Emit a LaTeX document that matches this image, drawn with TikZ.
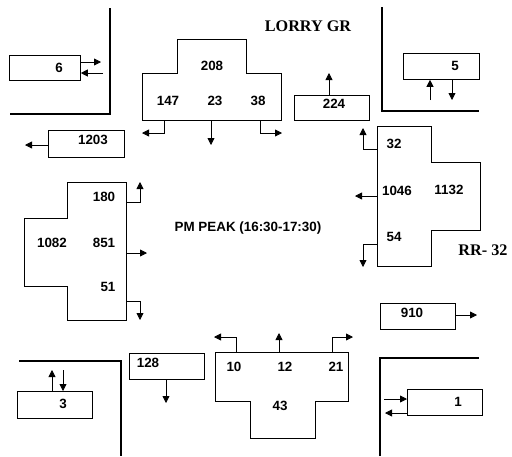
\documentclass[tikz,border=0pt]{standalone}
\usepackage{fontspec}
\setmainfont{Liberation Serif}
\setsansfont{Liberation Sans}
\usetikzlibrary{arrows.meta}
\begin{document}
\begin{tikzpicture}[x=1pt,y=-1pt,
 num/.style={font=\sffamily\bfseries\fontsize{13.4}{15}\selectfont, inner sep=0pt},
 box/.style={draw, line width=0.8pt, inner sep=0pt, anchor=north west},
 tshape/.style={draw, line width=0.8pt},
 arr/.style={line width=0.8pt, -{Triangle[length=7pt,width=7pt]}},
 wall/.style={line width=2.8pt},
 title/.style={font=\rmfamily\bfseries\fontsize{16.2}{18}\selectfont, inner sep=0pt}]
\useasboundingbox (0,0) rectangle (512,456);

% walls
\draw[wall] (110,8) -- (110,114) -- (10,114);
\draw[wall] (382,7) -- (382,111) -- (479,111);
\draw[wall] (19,361) -- (121,361) -- (121,456);
\draw[wall] (380,456) -- (380,358) -- (479,358);

% boxes
\node[box, minimum width=71pt, minimum height=25pt] (b6) at (9,55) {};
\node[box, minimum width=76pt, minimum height=27pt] (b1203) at (48,130) {};
\node[box, minimum width=75pt, minimum height=25pt] (b224) at (294,95) {};
\node[box, minimum width=76pt, minimum height=26pt] (b5) at (403,53) {};
\node[box, minimum width=75pt, minimum height=26pt] (b910) at (380,303) {};
\node[box, minimum width=75pt, minimum height=26pt] (b128) at (129,353) {};
\node[box, minimum width=75pt, minimum height=27pt] (b3) at (17,391) {};
\node[box, minimum width=75pt, minimum height=26pt] (b1) at (407,389) {};

\node[num] (t6) at (59,68) {6};
\node[num] (t1203) at (93,140) {1203};
\node[num] (t224) at (334,104) {224};
\node[num] (t5) at (455,66) {5};
\node[num] (t910) at (412,313) {910};
\node[num] (t128) at (148,363) {128};
\node[num] (t3) at (63,404) {3};
\node[num] (t1) at (458,402) {1};

% T shapes
\draw[tshape] (142,73) -- (177,73) -- (177,39) -- (246,39) -- (246,73) -- (281,73) -- (281,120) -- (142,120) -- cycle;
\draw[tshape] (377,126) -- (431,126) -- (431,162) -- (480,162) -- (480,230) -- (431,230) -- (431,266) -- (377,266) -- cycle;
\draw[tshape] (67,182) -- (126,182) -- (126,320) -- (67,320) -- (67,286) -- (24,286) -- (24,218) -- (67,218) -- cycle;
\draw[tshape] (215,352) -- (348,352) -- (348,401) -- (315,401) -- (315,438) -- (250,438) -- (250,401) -- (215,401) -- cycle;

\node[num] (n208) at (212,66) {208};
\node[num] (n147) at (168,101) {147};
\node[num] (n23) at (215,101) {23};
\node[num] (n38) at (258,101) {38};

\node[num] (n32) at (394,144) {32};
\node[num] (n1046) at (397,191) {1046};
\node[num] (n1132) at (449,190) {1132};
\node[num] (n54) at (394,237) {54};

\node[num] (n180) at (104,197) {180};
\node[num] (n1082) at (52,243) {1082};
\node[num] (n851) at (104,243) {851};
\node[num] (n51) at (108,287) {51};

\node[num] (n10) at (234,367) {10};
\node[num] (n12) at (285,367) {12};
\node[num] (n21) at (336,367) {21};
\node[num] (n43) at (280,406) {43};

% titles
\node[title] (lorry) at (308,26) {LORRY GR};
\node[title] (rr) at (483,250) {RR- 32};
\node[num] (pm) at (248,228) {PM PEAK (16:30-17:30)};

% free ends
\coordinate (e6a) at (101,62);
\coordinate (s6b) at (103,73);
\coordinate (e1203) at (25,145);
\coordinate (e224) at (329,73);
\coordinate (s5a) at (430,100);
\coordinate (e5b) at (452,100);
\coordinate (e910) at (477,315);
\coordinate (e128) at (166,403);
\coordinate (s3a) at (63,370);
\coordinate (e3b) at (52,370);
\coordinate (s1a) at (384,399);
\coordinate (e1b) at (385,413);

\draw[arr] (b6.east |- e6a) -- (e6a);
\draw[arr] (s6b) -- (b6.east |- s6b);
\draw[arr] (b1203.west |- e1203) -- (e1203);
\draw[arr] (b224.north -| e224) -- (e224);
\draw[arr] (s5a) -- (b5.south -| s5a);
\draw[arr] (b5.south -| e5b) -- (e5b);
\draw[arr] (b910.east |- e910) -- (e910);
\draw[arr] (b128.south -| e128) -- (e128);
\draw[arr] (s3a) -- (b3.north -| s3a);
\draw[arr] (b3.north -| e3b) -- (e3b);
\draw[arr] (s1a) -- (b1.west |- s1a);
\draw[arr] (b1.west |- e1b) -- (e1b);

% T-shape turning arrows
\coordinate (tl1) at (164,120); \coordinate (tl2) at (142,133);
\coordinate (tm1) at (211,120); \coordinate (tm2) at (211,145);
\coordinate (tr1) at (260,120); \coordinate (tr2) at (282,133);
\draw[arr] (tl1) |- (tl2);
\draw[arr] (tm1) -- (tm2);
\draw[arr] (tr1) |- (tr2);

\coordinate (ra1) at (377,149); \coordinate (ra2) at (363,128);
\coordinate (rb1) at (377,196); \coordinate (rb2) at (355,196);
\coordinate (rc1) at (377,244); \coordinate (rc2) at (363,267);
\draw[arr] (ra1) -| (ra2);
\draw[arr] (rb1) -- (rb2);
\draw[arr] (rc1) -| (rc2);

\coordinate (la1) at (126,202); \coordinate (la2) at (140,182);
\coordinate (lb1) at (126,253); \coordinate (lb2) at (147,253);
\coordinate (lc1) at (126,301); \coordinate (lc2) at (140,320);
\draw[arr] (la1) -| (la2);
\draw[arr] (lb1) -- (lb2);
\draw[arr] (lc1) -| (lc2);

\coordinate (ba1) at (236,352); \coordinate (ba2) at (214,337);
\coordinate (bb1) at (279,352); \coordinate (bb2) at (279,333);
\coordinate (bc1) at (332,352); \coordinate (bc2) at (353,337);
\draw[arr] (ba1) |- (ba2);
\draw[arr] (bb1) -- (bb2);
\draw[arr] (bc1) |- (bc2);
\end{tikzpicture}
\end{document}
